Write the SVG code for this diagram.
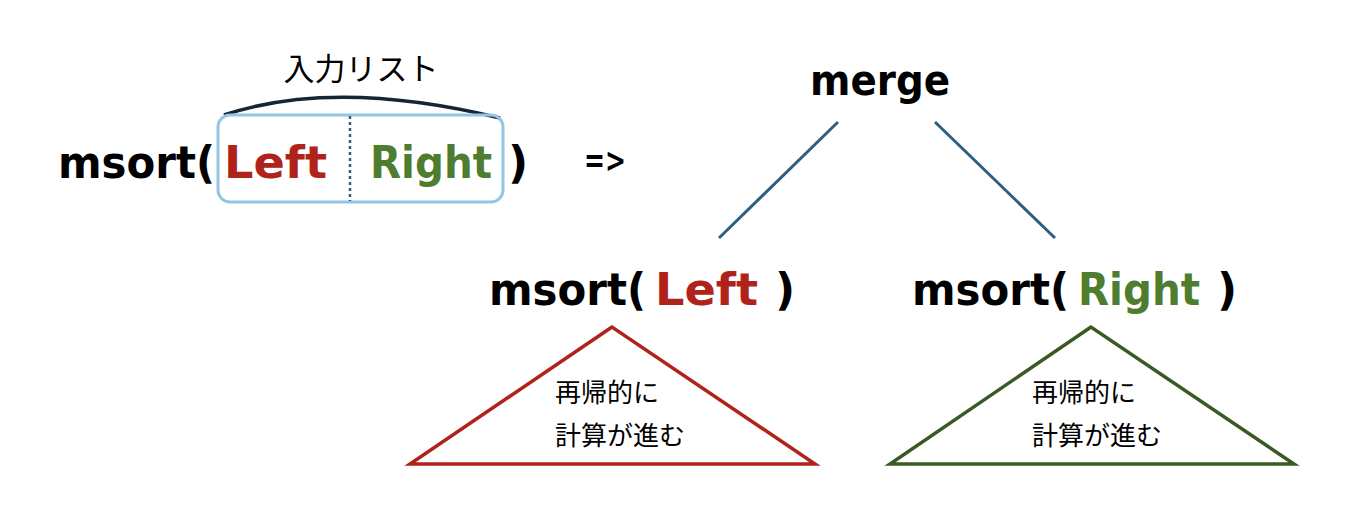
<svg xmlns="http://www.w3.org/2000/svg" width="1352" height="510" viewBox="0 0 1352 510">
<style>
.t{font-family:"DejaVu Sans","Noto Sans",sans-serif;font-weight:bold;font-size:44px;fill:#000}
.j{font-family:"Noto Sans CJK JP","Noto Sans",sans-serif;font-size:26px;fill:#000}
.red{fill:#b0231a}
.grn{fill:#4e7d2f}
.edge{stroke:#2e5f80;stroke-width:3;fill:none}
</style>
<rect width="1352" height="510" fill="#fff"/>
<g id="input">
<path d="M224,115 Q335,78 500,118" fill="none" stroke="#152535" stroke-width="3.5"/>
<text class="j" x="361" y="80" text-anchor="middle" style="font-size:31px">入力リスト</text>
<rect x="218" y="115" width="285" height="87" rx="12" fill="none" stroke="#93c6e5" stroke-width="3"/>
<line x1="350" y1="116" x2="350" y2="201" stroke="#2e5f80" stroke-width="2.5" stroke-dasharray="3,3"/>
<text class="t" x="58" y="178" textLength="157" lengthAdjust="spacingAndGlyphs">msort(</text>
<text class="t red" x="224" y="178" textLength="103" lengthAdjust="spacingAndGlyphs">Left</text>
<text class="t grn" x="370" y="178" textLength="122" lengthAdjust="spacingAndGlyphs">Right</text>
<text class="t" x="508" y="178">)</text>
<text class="t" x="584" y="172" style="font-size:34px" textLength="42" lengthAdjust="spacingAndGlyphs">=&gt;</text>
</g>
<g id="merge">
<text class="t" x="880" y="95" text-anchor="middle" style="font-size:42px" textLength="140" lengthAdjust="spacingAndGlyphs">merge</text>
</g>
<g id="connectors">
<line class="edge" x1="838" y1="122" x2="719" y2="238"/>
<line class="edge" x1="935" y1="122" x2="1055" y2="238"/>
</g>
<g id="msort-left">
<text class="t" x="489" y="305" textLength="157" lengthAdjust="spacingAndGlyphs">msort(</text>
<text class="t red" x="655" y="305" textLength="103" lengthAdjust="spacingAndGlyphs">Left</text>
<text class="t" x="775" y="305">)</text>
<polygon points="612,327 410,464 815,464" fill="none" stroke="#b0231a" stroke-width="3.5"/>
<text class="j" x="555" y="402">再帰的に</text>
<text class="j" x="555" y="445">計算が進む</text>
</g>
<g id="msort-right">
<text class="t" x="912" y="305" textLength="157" lengthAdjust="spacingAndGlyphs">msort(</text>
<text class="t grn" x="1078" y="305" textLength="122" lengthAdjust="spacingAndGlyphs">Right</text>
<text class="t" x="1217" y="305">)</text>
<polygon points="1091,327 890,464 1294,464" fill="none" stroke="#3b5a23" stroke-width="3.5"/>
<text class="j" x="1032" y="402">再帰的に</text>
<text class="j" x="1032" y="445">計算が進む</text>
</g>
</svg>
